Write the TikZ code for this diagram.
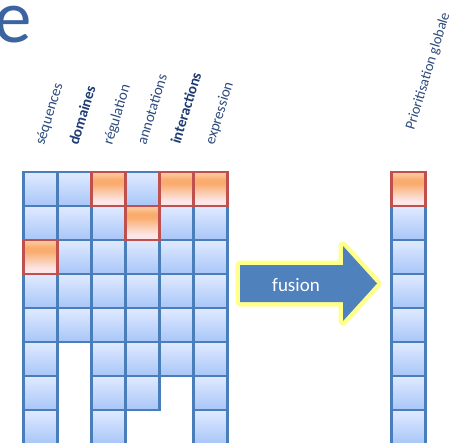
\documentclass[tikz,border=0pt]{standalone}
\usepackage{fontspec}
\setmainfont{Carlito}
\definecolor{cellborder}{RGB}{74,126,187}
\definecolor{celltop}{RGB}{224,234,255}
\definecolor{cellbot}{RGB}{168,198,248}
\definecolor{hotborder}{RGB}{192,80,77}
\definecolor{hottop}{RGB}{251,208,168}
\definecolor{hotmid}{RGB}{249,172,110}
\definecolor{hotbot}{RGB}{253,230,232}
\definecolor{arrowblue}{RGB}{79,129,189}
\definecolor{glow}{RGB}{255,255,140}
\definecolor{titleblue}{RGB}{59,100,160}
\definecolor{labelblue}{RGB}{45,75,125}
\definecolor{labelbold}{RGB}{30,60,115}
\pgfdeclareverticalshading{hotshade}{100bp}{color(0bp)=(hotbot); color(25bp)=(hotbot); color(33bp)=(hotbot); color(58bp)=(hotmid); color(64bp)=(hotmid); color(75bp)=(hottop); color(100bp)=(hottop)}
\begin{document}
\begin{tikzpicture}[x=1pt,y=-1pt,
  cellb/.style={draw=cellborder, line width=2.5pt, minimum size=34pt, inner sep=0pt, top color=celltop, bottom color=cellbot},
  cellh/.style={draw=hotborder, line width=2.5pt, minimum size=34pt, inner sep=0pt, shading=hotshade},
  lbl/.style={anchor=base west, rotate=73, inner sep=0pt, text=labelblue, font=\fontsize{15}{17}\selectfont},
  lblb/.style={lbl, text=labelbold, font=\fontsize{15}{17}\selectfont\bfseries},
  fusionarrow/.style={fill=arrowblue, preaction={draw=glow, line width=9pt, line join=round}}
]
\useasboundingbox (0,0) rectangle (455,442);
% title fragment
\node[anchor=base west, inner sep=0pt, text=titleblue, font=\fontsize{75}{80}\selectfont] (title) at (-6,42) {e};
% column labels
\node[lbl]  (lseq) at (44,146) {séquences};
\node[lblb] (ldom) at (78,146) {domaines};
\node[lbl]  (lreg) at (112,146) {régulation};
\node[lbl]  (lann) at (146,146) {annotations};
\node[lblb] (lint) at (180,145) {interactions};
\node[lbl]  (lexp) at (214,146) {expression};
\node[lbl, font=\fontsize{14.5}{16}\selectfont] (lglob) at (414,131) {Prioritisation globale};
% left grid: blue cells
\foreach \c/\n in {1/8,2/5,3/8,4/7,5/6,6/8}{
  \foreach \r in {1,...,\n}{
    \pgfmathtruncatemacro\hot{((\r==1)&&((\c==3)||(\c==5)||(\c==6)))||((\r==2)&&(\c==4))||((\r==3)&&(\c==1))}
    \ifnum\hot=0
      \node[cellb] (g\c-\r) at ({23.3+34*\c-17},{172+34*\r-17}) {};
    \fi
  }
}
% left grid: highlighted cells
\foreach \c/\r in {3/1,5/1,6/1,4/2,1/3}{
  \node[cellh] (g\c-\r) at ({23.3+34*\c-17},{172+34*\r-17}) {};
}
% right column
\foreach \r in {2,...,8}{
  \node[cellb] (p\r) at (408.7,{172+34*\r-17}) {};
}
\node[cellh] (p1) at (408.7,189) {};
% fusion arrow
\fill[fusionarrow] (240,265) -- (343,265) -- (343,246) -- (377,283.5) -- (343,321) -- (343,302) -- (240,302) -- cycle;
\node[text=white, inner sep=0pt, font=\fontsize{19}{21}\selectfont] (fusion) at (296,285) {fusion};
\end{tikzpicture}
\end{document}
